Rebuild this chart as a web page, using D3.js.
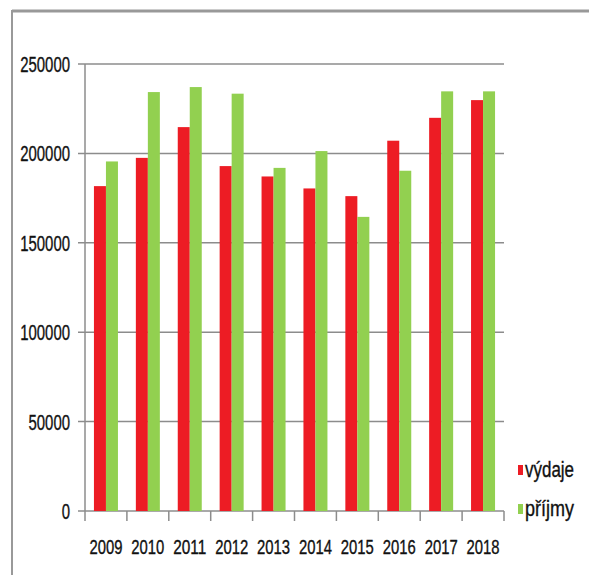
<!DOCTYPE html>
<html>
<head>
<meta charset="utf-8">
<script src="https://cdn.jsdelivr.net/npm/d3@7"></script>
<style>
  body { margin: 0; background: #fff; }
  text { font-family: "Liberation Sans", Arial, sans-serif; fill: #111; stroke: #111; stroke-width: 0.35; }
</style>
</head>
<body>
<script>
var years = ["2009","2010","2011","2012","2013","2014","2015","2016","2017","2018"];
var vydaje = [181700, 197500, 214700, 192900, 187100, 180400, 176100, 207100, 219900, 229800];
var prijmy = [195500, 234300, 237100, 233400, 191900, 201300, 164500, 190300, 234700, 234700];
var seriesNames = ["výdaje", "příjmy"];
var seriesColors = ["#ED1C24", "#92D050"];
var yTicks = [0, 50000, 100000, 150000, 200000, 250000];

var width = 589, height = 575;
var plotLeft = 85, plotRight = 504, plotTop = 64, plotBottom = 511;

var svg = d3.select("body").append("svg")
  .attr("width", width)
  .attr("height", height);

// frame
svg.append("line").attr("x1", 12).attr("x2", width).attr("y1", 11).attr("y2", 11)
  .attr("stroke", "#999").attr("stroke-width", 3);
svg.append("line").attr("x1", 12).attr("x2", 12).attr("y1", 10).attr("y2", height)
  .attr("stroke", "#999").attr("stroke-width", 2);

var x = d3.scaleBand().domain(years).range([plotLeft, plotRight]);
var y = d3.scaleLinear().domain([0, 250000]).range([plotBottom, plotTop]);

// gridlines + left ticks
svg.append("g").selectAll("line.grid")
  .data(yTicks)
  .enter().append("line")
  .attr("x1", plotLeft - 7).attr("x2", plotRight)
  .attr("y1", d => y(d)).attr("y2", d => y(d))
  .attr("stroke", "#8c8c8c").attr("stroke-width", 1.5);

svg.append("line").attr("x1", plotLeft).attr("x2", plotLeft).attr("y1", plotTop).attr("y2", plotBottom)
  .attr("stroke", "#8c8c8c").attr("stroke-width", 1.5);

svg.append("g").selectAll("text.ylab")
  .data(yTicks)
  .enter().append("text")
  .attr("x", 70).attr("y", d => y(d) + 8)
  .attr("text-anchor", "end")
  .attr("font-size", 22)
  .attr("textLength", d => String(d).length * 8.3)
  .attr("lengthAdjust", "spacingAndGlyphs")
  .text(d => d);

// x ticks at band edges
var edges = years.map(d => x(d)).concat([plotRight]);
svg.append("g").selectAll("line.xt")
  .data(edges)
  .enter().append("line")
  .attr("x1", d => d).attr("x2", d => d)
  .attr("y1", plotBottom).attr("y2", plotBottom + 10)
  .attr("stroke", "#8c8c8c").attr("stroke-width", 1.5);

var barW = 12;
var groups = svg.append("g").selectAll("g.yr")
  .data(years)
  .enter().append("g")
  .attr("transform", d => "translate(" + (x(d) + x.bandwidth() / 2) + ",0)");

groups.append("rect")
  .attr("x", -barW).attr("width", barW)
  .attr("y", (d, i) => y(vydaje[i]))
  .attr("height", (d, i) => y(0) - y(vydaje[i]))
  .attr("fill", seriesColors[0]);

groups.append("rect")
  .attr("x", 0).attr("width", barW)
  .attr("y", (d, i) => y(prijmy[i]))
  .attr("height", (d, i) => y(0) - y(prijmy[i]))
  .attr("fill", seriesColors[1]);

groups.append("text")
  .attr("y", 554)
  .attr("text-anchor", "middle")
  .attr("font-size", 20)
  .attr("textLength", 33)
  .attr("lengthAdjust", "spacingAndGlyphs")
  .text(d => d);

// legend
var legend = svg.append("g").selectAll("g.leg")
  .data(seriesNames)
  .enter().append("g")
  .attr("transform", (d, i) => "translate(518," + (465 + i * 39) + ")");

legend.append("rect")
  .attr("width", 5).attr("height", 10)
  .attr("fill", (d, i) => seriesColors[i]);

legend.append("text")
  .attr("x", 7).attr("y", 12)
  .attr("font-size", 22)
  .attr("textLength", 49)
  .attr("lengthAdjust", "spacingAndGlyphs")
  .text(d => d);
</script>
</body>
</html>
